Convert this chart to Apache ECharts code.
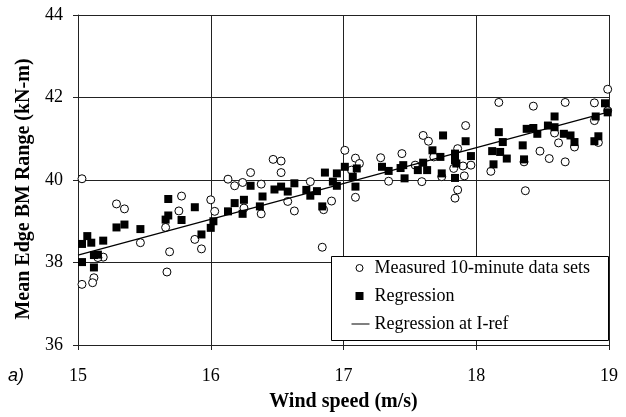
<!DOCTYPE html>
<html><head><meta charset="utf-8">
<script src="https://cdn.jsdelivr.net/npm/echarts@6/dist/echarts.min.js"></script>
<style>html,body{margin:0;padding:0;background:#fff}#c{width:626px;height:417px}</style>
</head><body><div id="c"></div>
<script>
var xTicks = [15, 16, 17, 18, 19];
var yTicks = [36, 38, 40, 42, 44];
var measured = [
[15.03,40.03],[15.29,39.42],[15.35,39.30],[15.78,39.61],[15.76,39.25],[15.66,38.85],[15.47,38.48],[15.69,38.26],
[15.19,38.13],[15.15,38.12],[15.67,37.77],[15.12,37.63],[15.11,37.51],[15.03,37.47],
[16.47,40.50],[16.53,40.46],[16.30,40.18],[16.53,40.18],[16.13,40.02],[16.18,39.86],[16.24,39.94],[16.38,39.90],
[16.00,39.52],[16.03,39.24],[16.25,39.32],[16.58,39.48],[16.63,39.25],[16.38,39.18],[15.88,38.56],[15.93,38.33],
[17.01,40.72],[17.09,40.53],[17.12,40.40],[17.28,40.54],[17.44,40.64],[16.75,39.96],[17.34,39.97],[17.09,39.58],
[16.91,39.49],[16.84,38.37],[16.85,39.28],[17.06,40.24],
[18.17,41.88],[17.92,41.32],[17.60,41.08],[17.64,40.94],[17.86,40.76],[17.68,40.56],[17.54,40.36],[17.96,40.36],
[17.90,40.34],[17.83,40.28],[17.91,40.10],[17.74,40.08],[17.59,39.96],[18.11,40.21],[17.86,39.76],[17.84,39.56],
[18.99,42.20],[18.43,41.79],[18.67,41.88],[18.89,41.87],[18.59,41.14],[18.62,40.90],[18.74,40.80],[18.89,41.44],
[18.48,40.70],[18.55,40.52],[18.67,40.44],[18.36,40.44],[18.37,39.74],[18.99,41.68],[18.92,40.91]
];
var regression = [
[15.68,39.54],[15.68,39.14],[15.66,39.04],[15.78,39.03],[15.35,38.92],[15.29,38.85],[15.47,38.81],[15.07,38.64],
[15.03,38.45],[15.10,38.48],[15.19,38.53],[15.15,38.19],[15.12,38.18],[15.03,38.01],[15.12,37.88],
[15.88,39.34],[16.30,39.86],[16.63,39.92],[16.48,39.77],[16.53,39.84],[16.58,39.72],[16.39,39.60],[16.37,39.36],
[16.25,39.52],[16.18,39.44],[16.24,39.18],[16.13,39.24],[16.02,39.00],[16.00,38.84],[15.93,38.68],
[16.86,40.18],[16.95,40.16],[17.01,40.32],[17.10,40.28],[17.07,40.08],[17.09,39.84],[16.92,39.96],[16.95,39.86],
[16.72,39.76],[16.80,39.73],[16.75,39.62],[16.84,39.36],[17.29,40.32],[17.34,40.22],[17.43,40.29],[17.46,40.04],
[17.75,41.08],[17.92,40.94],[17.67,40.72],[17.73,40.56],[17.84,40.64],[17.84,40.48],[17.96,40.58],[17.85,40.40],
[17.45,40.36],[17.60,40.42],[17.56,40.24],[17.63,40.24],[17.74,40.16],[17.84,40.05],[18.17,41.16],[18.20,40.92],
[18.12,40.70],[18.18,40.68],[18.23,40.52],[18.13,40.38],
[18.97,41.86],[18.99,41.64],[18.90,41.54],[18.59,41.54],[18.54,41.32],[18.59,41.28],[18.43,41.26],[18.38,41.24],
[18.46,41.12],[18.66,41.12],[18.71,41.08],[18.74,40.92],[18.92,41.06],[18.89,40.94],[18.35,40.84],[18.36,40.50]
];
var irefLine = [[15,38.18],[19,41.65]];
var seriesNames = ['Measured 10-minute data sets', 'Regression', 'Regression at I-ref'];

var serif = '"Liberation Serif", "Times New Roman", serif';
var gridColor = '#222';
var chart = echarts.init(document.getElementById('c'), null, {renderer: 'canvas'});
chart.setOption({
  animation: false,
  backgroundColor: '#fff',
  grid: {left: 78, right: 17, top: 15, bottom: 69, containLabel: false},
  xAxis: {
    type: 'value', min: xTicks[0], max: xTicks[xTicks.length - 1], interval: 1,
    name: 'Wind speed (m/s)', nameLocation: 'middle', nameGap: 47,
    nameTextStyle: {fontFamily: serif, fontWeight: 'bold', fontSize: 20, color: '#000'},
    axisLine: {lineStyle: {color: gridColor, width: 1}},
    axisTick: {show: true, inside: false, length: 5, lineStyle: {color: gridColor}},
    axisLabel: {fontFamily: serif, fontSize: 18, color: '#000', margin: 22},
    splitLine: {show: true, lineStyle: {color: gridColor, width: 1}}
  },
  yAxis: {
    type: 'value', min: yTicks[0], max: yTicks[yTicks.length - 1], interval: 2,
    name: 'Mean Edge BM Range (kN-m)', nameLocation: 'middle', nameGap: 44,
    nameTextStyle: {fontFamily: serif, fontWeight: 'bold', fontSize: 20, color: '#000', padding: [0, 18, 0, 0]},
    axisLine: {show: true, lineStyle: {color: gridColor, width: 1}},
    axisTick: {show: true, inside: false, length: 5, lineStyle: {color: gridColor}},
    axisLabel: {fontFamily: serif, fontSize: 18, color: '#000', margin: 15},
    splitLine: {show: true, lineStyle: {color: gridColor, width: 1}}
  },
  legend: {
    orient: 'vertical', left: 351, top: 259, z: 20,
    itemWidth: 18, itemHeight: 8, itemGap: 10,
    padding: 0,
    textStyle: {fontFamily: serif, fontSize: 18, color: '#000'},
    data: [
      {name: seriesNames[0], icon: 'path://M0,4L0,4M18,4L18,4M4.5,4A3.5,3.5 0 1 1 11.5,4A3.5,3.5 0 1 1 4.5,4Z',
       itemStyle: {color: '#fff', borderColor: '#000', borderWidth: 1}},
      {name: seriesNames[1], icon: 'path://M0,4L0,4M18,4L18,4M4,0H12V8H4Z', itemStyle: {color: '#000'}},
      {name: seriesNames[2], icon: 'path://M0,3.5H18V4.5H0Z', itemStyle: {color: '#000'}}
    ]
  },
  graphic: [
    {type: 'rect', z: 10, shape: {x: 331.5, y: 256.5, width: 277, height: 84},
     style: {fill: '#fff', stroke: '#000', lineWidth: 1}},
    {type: 'text', left: 8, top: 367, z: 10,
     style: {text: 'a)', font: 'italic 18px "Liberation Sans", Arial, sans-serif', fill: '#000'}}
  ],
  series: [
    {name: seriesNames[0], type: 'scatter', data: measured, symbol: 'circle', symbolSize: 8,
     itemStyle: {color: '#fff', borderColor: '#000', borderWidth: 1, opacity: 1}, z: 2},
    {name: seriesNames[1], type: 'scatter', data: regression, symbol: 'rect', symbolSize: 8,
     itemStyle: {color: '#000', opacity: 1}, z: 3},
    {name: seriesNames[2], type: 'line', data: irefLine, symbol: 'none',
     lineStyle: {color: '#000', width: 1.2}, z: 4}
  ]
});
</script></body></html>
